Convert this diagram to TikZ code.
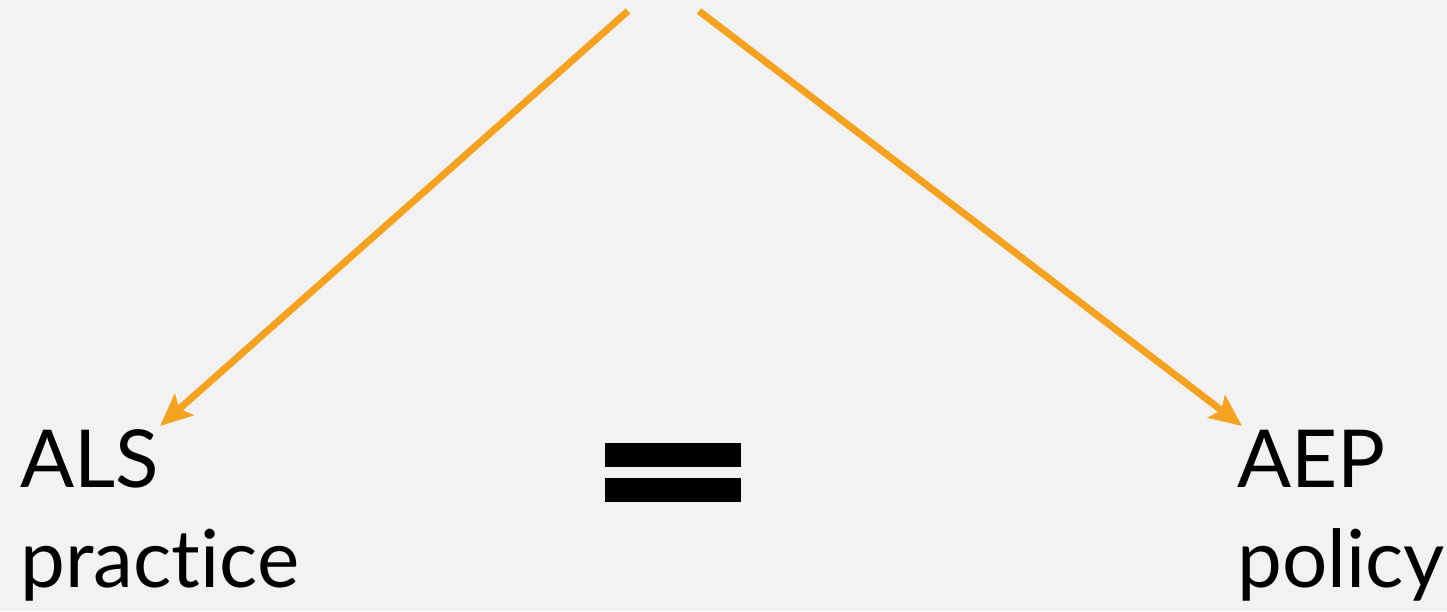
\documentclass[tikz,border=0pt]{standalone}
\usepackage{fontspec}
\setmainfont[Ligatures={NoCommon,NoRare,NoDiscretionary}]{Lato}
\usetikzlibrary{arrows.meta}
\definecolor{bg}{HTML}{F2F2F2}
\definecolor{arr}{HTML}{F4A21F}
\begin{document}
\begin{tikzpicture}[x=1pt,y=-1pt,
  conn/.style={draw=arr,line width=7pt,-{Stealth[length=32pt,width=28pt,inset=6pt]}},
  lbl/.style={anchor=base west,align=left,inner sep=0pt,font=\fontsize{80}{100}\selectfont},
  bar/.style={fill=black}]
\fill[bg] (0,0) rectangle (1447,611);
\useasboundingbox (0,0) rectangle (1447,611);
\coordinate (srcL) at (628,11);
\coordinate (srcR) at (699,11);
\coordinate (tipL) at (160,426);
\coordinate (tipR) at (1242,426);
\node[lbl] (als) at (20,587) {ALS\\practice};
\node[lbl] (aep) at (1237,587) {AEP\\policy};
\path[bar] (605,443) rectangle (741,467);
\path[bar] (605,478) rectangle (741,502);
\draw[conn] (srcL) -- (tipL);
\draw[conn] (srcR) -- (tipR);
\end{tikzpicture}
\end{document}
